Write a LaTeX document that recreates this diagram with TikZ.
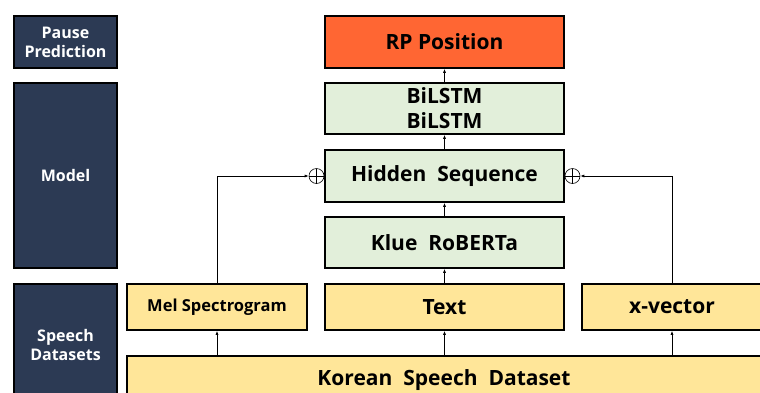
\documentclass[tikz,border=0pt]{standalone}
\usepackage{fontspec}
\setmainfont{Open Sans}
\usetikzlibrary{arrows.meta}
\definecolor{navy}{HTML}{2C3A54}
\definecolor{rporange}{HTML}{FF6633}
\definecolor{mgreen}{HTML}{E2EFDA}
\definecolor{dyellow}{HTML}{FFE699}
\tikzset{
  box/.style={draw=black, line width=1.6pt, rectangle, inner sep=0pt, align=center, font=\bfseries},
  sidebox/.style={box, fill=navy, text=white, minimum width=103pt, font=\fontsize{16}{19}\selectfont\bfseries},
  greenbox/.style={box, fill=mgreen, minimum width=239pt, font=\fontsize{21}{25}\selectfont\bfseries},
  yellowbox/.style={box, fill=dyellow, font=\fontsize{21}{25}\selectfont\bfseries},
  arr/.style={line width=0.7pt, -{Latex[length=4pt,width=3pt]}},
  plus/.style={circle, draw, line width=0.6pt, minimum size=15pt, inner sep=0pt,
    path picture={\draw[line width=0.6pt] (path picture bounding box.north) -- (path picture bounding box.south)
      (path picture bounding box.west) -- (path picture bounding box.east);}},
}
\begin{document}
\begin{tikzpicture}[x=1pt,y=-1pt]
\clip (0,0) rectangle (760,392);
\fill[white] (0,0) rectangle (760,392);
% side labels
\node[sidebox, minimum height=52pt] (pp) at (65.5,42) {Pause\\Prediction};
\node[sidebox, minimum height=185pt] (model) at (65.5,175.5) {Model};
\node[sidebox, minimum height=122pt] (sd) at (65.5,345) {Speech\\Datasets};
% main column
\node[box, fill=rporange, minimum width=239pt, minimum height=52pt, font=\fontsize{21}{25}\selectfont\bfseries] (rp) at (444.5,42) {RP Position};
\node[greenbox, minimum height=51pt] (bilstm) at (444.5,108.5) {BiLSTM\\BiLSTM};
\node[greenbox, minimum height=52pt] (hidden) at (444.5,176) {Hidden\ \ Sequence};
\node[greenbox, minimum height=51pt] (klue) at (444.5,242.5) {Klue\ \ RoBERTa};
\node[yellowbox, minimum width=239pt, minimum height=46pt] (text) at (444.5,307) {Text};
\node[yellowbox, minimum width=180pt, minimum height=46pt, font=\fontsize{16.5}{20}\selectfont\bfseries] (mel) at (217,307) {Mel Spectrogram};
\node[yellowbox, minimum width=180pt, minimum height=46pt] (xvec) at (672,307) {x-vector};
\node[yellowbox, minimum width=634pt, minimum height=48pt] (korean) at (444,380) {Korean\ \ Speech\ \ Dataset};
% plus circles
\node[plus] (plusL) at (316.5,176) {};
\node[plus] (plusR) at (572.5,176) {};
% connectors
\draw[arr] (korean.north -| mel.south) -- (mel.south);
\draw[arr] (korean.north -| text.south) -- (text.south);
\draw[arr] (korean.north -| xvec.south) -- (xvec.south);
\draw[arr] (text) -- (klue);
\draw[arr] (klue) -- (hidden);
\draw[arr] (hidden) -- (bilstm);
\draw[arr] (bilstm) -- (rp);
\draw[arr] (mel.north) |- (plusL.west);
\draw[arr] (xvec.north) |- (plusR.east);
\end{tikzpicture}
\end{document}
